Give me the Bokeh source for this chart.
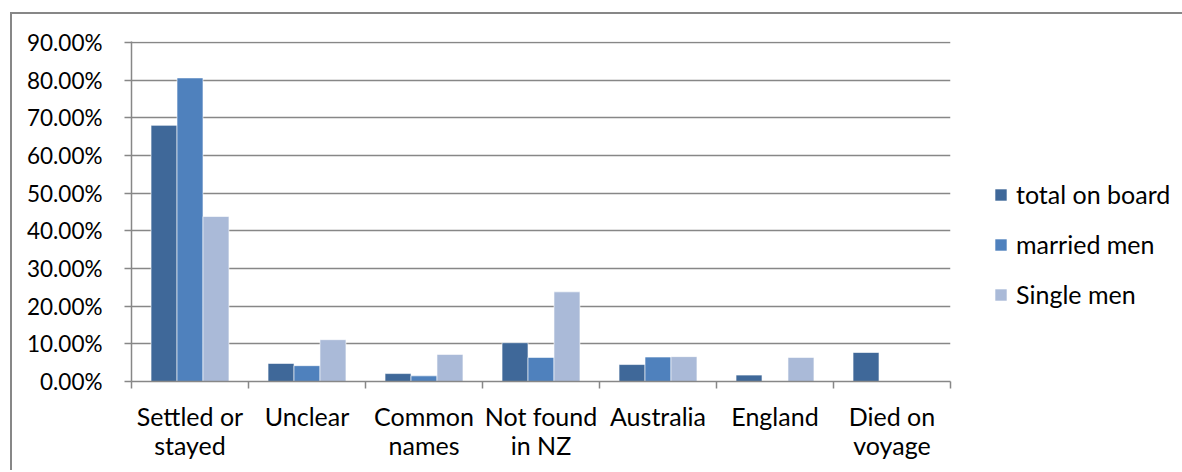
from bokeh.plotting import figure
from bokeh.models import (Range1d, FixedTicker, NumeralTickFormatter, Legend,
                          LegendItem, ColumnDataSource)
from bokeh.embed import file_html
from bokeh.resources import INLINE

categories = ["Settled or\nstayed", "Unclear", "Common\nnames", "Not found\nin NZ",
              "Australia", "England", "Died on\nvoyage"]
series_names = ["total on board", "married men", "Single men"]
total_on_board = [0.680, 0.048, 0.021, 0.103, 0.045, 0.017, 0.077]
married_men = [0.806, 0.042, 0.015, 0.064, 0.065, 0.0, 0.0]
single_men = [0.438, 0.111, 0.072, 0.238, 0.066, 0.064, 0.0]
y_ticks = [0.0, 0.1, 0.2, 0.3, 0.4, 0.5, 0.6, 0.7, 0.8, 0.9]

colors = ["#3F6899", "#4F81BD", "#AABAD8"]
grey = "#878787"
font = "Lato"

n = len(categories)
centers = [i + 0.5 for i in range(n)]
bar_w = 0.222
offsets = [-bar_w, 0.0, bar_w]

p = figure(margin=(12, 0, 0, 10),
           styles={"border-top": "2px solid #878787", "border-left": "2px solid #878787"},
           output_backend="svg", toolbar_location=None,
           x_range=Range1d(0, n), y_range=Range1d(0, 0.9 * 340 / 339),
           frame_width=819, frame_height=340,
           min_border_left=119, min_border_top=27, min_border_right=229, min_border_bottom=89)
p.outline_line_color = None
p.background_fill_color = "white"
p.border_fill_color = "white"

renderers = []
for vals, off, col in zip([total_on_board, married_men, single_men], offsets, colors):
    src = ColumnDataSource(dict(x=[c + off for c in centers], top=vals))
    r = p.vbar(x="x", top="top", bottom=0, width=bar_w, source=src,
               fill_color=col, line_color="white", line_alpha=0.6, line_width=1)
    renderers.append(r)

# y axis
p.yaxis.ticker = FixedTicker(ticks=y_ticks)
p.yaxis.formatter = NumeralTickFormatter(format="0.00%")
p.yaxis.axis_line_color = grey
p.yaxis.axis_line_width = 1.5
p.yaxis.major_tick_line_color = grey
p.yaxis.major_tick_line_width = 1.5
p.yaxis.major_tick_in = 0
p.yaxis.major_tick_out = 7
p.yaxis.minor_tick_line_color = None
p.yaxis.major_label_text_font = font
p.yaxis.major_label_text_font_size = "22.5px"
p.yaxis.major_label_text_color = "#000000"
p.yaxis.major_label_standoff = 22

# x axis
p.xaxis.ticker = FixedTicker(ticks=centers, minor_ticks=list(range(n + 1)))
p.xaxis.major_label_overrides = {c: lab for c, lab in zip(centers, categories)}
p.xaxis.axis_line_color = grey
p.xaxis.axis_line_width = 1.5
p.xaxis.major_tick_line_color = None
p.xaxis.major_tick_in = 0
p.xaxis.major_tick_out = 0
p.xaxis.minor_tick_line_color = grey
p.xaxis.minor_tick_line_width = 1.5
p.xaxis.minor_tick_in = 0
p.xaxis.minor_tick_out = 7
p.xaxis.major_label_text_font = font
p.xaxis.major_label_text_font_size = "25px"
p.xaxis.major_label_text_color = "#000000"
p.xaxis.major_label_text_line_height = 0.97
p.xaxis.major_label_standoff = 12

p.xgrid.grid_line_color = None
p.ygrid.ticker = FixedTicker(ticks=y_ticks)
p.ygrid.grid_line_color = grey
p.ygrid.grid_line_width = 1.5

legend = Legend(items=[LegendItem(label=nm, renderers=[r]) for nm, r in zip(series_names, renderers)],
                location=(43, 72), margin=0, padding=0, border_line_color=None,
                background_fill_alpha=0, glyph_width=15, glyph_height=15,
                label_standoff=8, label_height=20, spacing=20,
                label_text_font=font, label_text_font_size="25px", label_text_color="#000000")
p.add_layout(legend, "right")

open("out.html", "w").write(file_html(p, INLINE))
